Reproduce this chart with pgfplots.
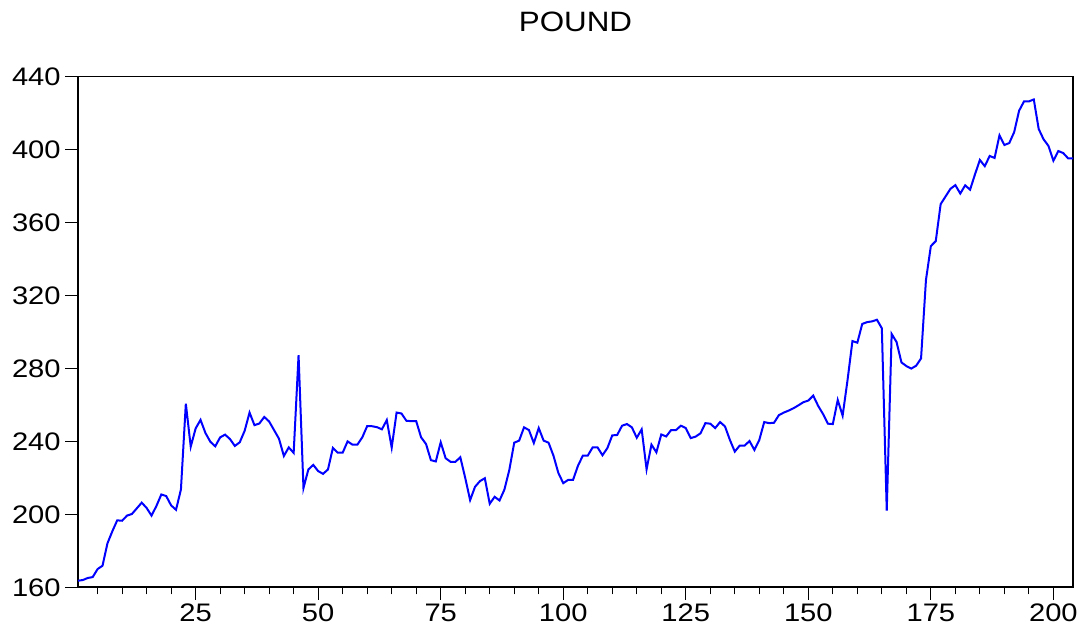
\documentclass[border=0pt]{standalone}
\usepackage{fontspec}
\setmainfont{Liberation Sans}
\usepackage{graphicx}
\usepackage{pgfplots}
\usepackage{pgfplotstable}
\pgfplotsset{compat=1.18}
\pgfplotstableread{
x y
1 163.6
2 164.0
3 165.1
4 165.6
5 170.0
6 171.8
7 184.0
8 190.7
9 196.7
10 196.5
11 199.3
12 200.2
13 203.3
14 206.4
15 203.5
16 199.3
17 204.6
18 210.9
19 210.0
20 204.9
21 202.5
22 213.6
23 260.7
24 237.1
25 247.1
26 251.8
27 244.6
28 239.8
29 237.3
30 242.2
31 243.7
32 241.3
33 237.5
34 239.5
35 245.8
36 255.8
37 248.9
38 249.8
39 253.4
40 250.9
41 246.2
42 241.5
43 232.0
44 236.7
45 233.7
46 287.3
47 214.4
48 224.6
49 227.1
50 223.7
51 222.2
52 224.6
53 236.4
54 233.8
55 233.8
56 240.0
57 238.2
58 238.2
59 242.2
60 248.4
61 248.3
62 247.8
63 246.6
64 251.7
65 236.6
66 255.8
67 255.3
68 251.3
69 251.1
70 251.1
71 242.2
72 238.6
73 229.7
74 229.0
75 239.5
76 230.8
77 228.8
78 228.8
79 231.3
80 220.0
81 207.8
82 215.1
83 218.2
84 219.8
85 205.8
86 209.6
87 207.6
88 213.6
89 224.4
90 239.3
91 240.4
92 247.7
93 246.2
94 239.1
95 247.3
96 240.4
97 239.3
98 232.2
99 222.7
100 217.1
101 218.9
102 218.9
103 226.6
104 232.2
105 232.2
106 236.7
107 236.7
108 232.4
109 236.3
110 243.3
111 243.5
112 248.6
113 249.5
114 247.7
115 242.0
116 246.6
117 224.7
118 238.2
119 234.0
120 243.8
121 242.7
122 246.2
123 246.2
124 248.6
125 247.3
126 241.8
127 242.6
128 244.4
129 250.0
130 249.7
131 247.3
132 250.6
133 248.2
134 240.8
135 234.4
136 237.7
137 237.7
138 240.2
139 235.3
140 240.8
141 250.6
142 250.0
143 250.2
144 254.4
145 255.8
146 256.9
147 258.2
148 259.8
149 261.5
150 262.4
151 265.1
152 259.5
153 255.0
154 249.7
155 249.5
156 262.7
157 254.1
158 273.6
159 295.0
160 294.1
161 304.4
162 305.4
163 305.8
164 306.7
165 302.0
166 202.0
167 298.9
168 294.5
169 283.3
170 281.3
171 279.9
172 281.5
173 285.5
174 328.5
175 347.1
176 349.8
177 370.1
178 374.3
179 378.5
180 380.5
181 375.9
182 380.4
183 378.0
184 386.4
185 394.3
186 390.9
187 396.5
188 395.4
189 407.8
190 402.5
191 403.6
192 409.6
193 421.3
194 426.4
195 426.4
196 427.5
197 411.3
198 405.6
199 402.0
200 393.9
201 399.2
202 398.1
203 395.2
204 395.2
}\pounddata
\begin{document}
\begin{tikzpicture}
\begin{axis}[
  name=ax,
  scale only axis,
  width=746.25pt, height=383pt,
  xmin=1, xmax=204, ymin=160, ymax=440,
  xtick={25,50,...,200},
  minor xtick={5,10,...,200},
  ytick={160,200,...,440},
  tick align=outside,
  xtick pos=bottom, ytick pos=left,
  major tick length=9.5pt,
  minor tick length=5.25pt,
  every tick/.style={black, line width=0.8pt},
  axis line style={line width=1.2pt},
  tick label style={font=\fontsize{19}{21}\selectfont},
  xticklabel style={yshift=0.5pt},
  xticklabel={\scalebox{1.15}[1]{\pgfmathprintnumber[assume math mode=true]{\tick}}},
  yticklabel={\scalebox{1.15}[1]{\pgfmathprintnumber[assume math mode=true]{\tick}}},
  title={\scalebox{1.12}[1]{POUND}},
  title style={font=\fontsize{21}{24}\selectfont, at={(0.5,1)}, anchor=center, yshift=35pt},
]
\addplot[blue, line width=1.5pt, mark=none] table[x=x,y=y] {\pounddata};
\end{axis}
\pgfresetboundingbox
\path[use as bounding box] (ax.south west) ++(-58.5pt,-29.78pt) rectangle ++(808.5pt,470.25pt);
\end{tikzpicture}
\end{document}
